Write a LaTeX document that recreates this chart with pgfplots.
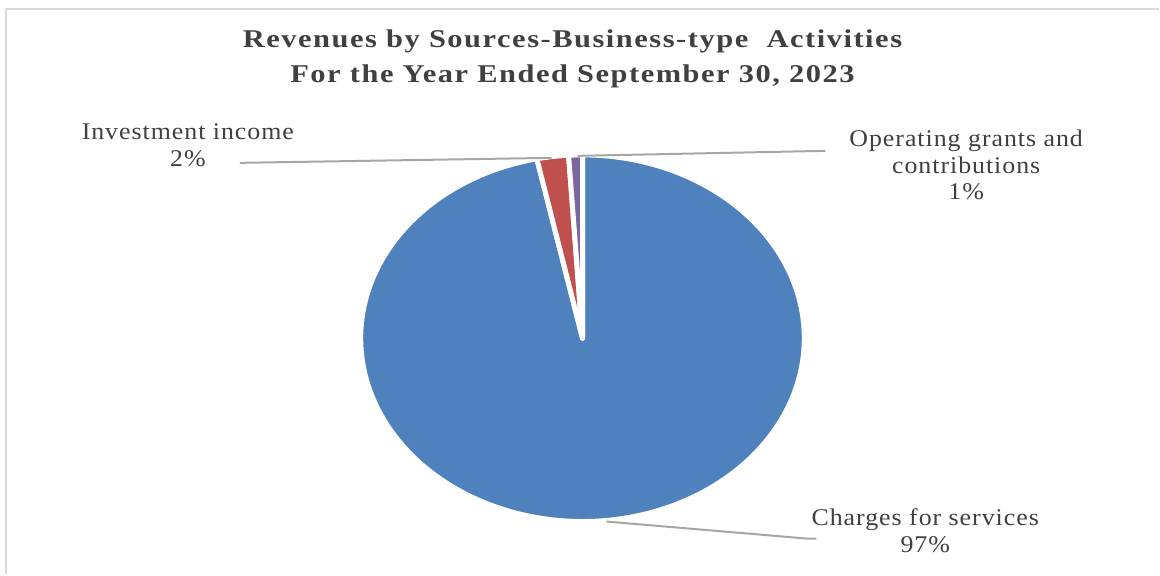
\documentclass[border=0pt]{standalone}
\usepackage{pgfplots}
\pgfplotsset{compat=1.18}
\usepackage{fontspec}
\setmainfont{Liberation Serif}
\newfontfamily\titlefont[FakeStretch=1.19,LetterSpace=6]{Liberation Serif}
\newfontfamily\labelfont[FakeStretch=1.08,LetterSpace=4]{Liberation Serif}
\definecolor{cblue}{HTML}{4F81BD}
\definecolor{cred}{HTML}{C0504D}
\definecolor{cpurple}{HTML}{8064A2}
\definecolor{ctext}{HTML}{404040}
\definecolor{cline}{HTML}{A6A6A6}
\definecolor{cborder}{HTML}{D9D9D9}
\begin{document}
\begin{tikzpicture}
\begin{axis}[width=580pt,height=287.5pt,scale only axis,
  xmin=0,xmax=1160,ymin=0,ymax=575,hide axis,clip=false]
% bounding box / background
\path[fill=white] (axis cs:0,0) rectangle (axis cs:1160,575);
\draw[cborder,line width=1pt] (axis cs:6,0) -- (axis cs:6,566) -- (axis cs:1160,566);
% pie slices (percent shares), clockwise from 12 o'clock
% Charges for services 96.7, Investment income 2.3, Operating grants and contributions 1.0
\addplot[fill=cblue,draw=white,line width=2.5pt,line join=round,domain={90-3.6*96.7}:90,samples=200]
  ({583+222*cos(x)},{236.5+183.5*sin(x)}) -- (axis cs:583,236.5) -- cycle;
\addplot[fill=cred,draw=white,line width=2.5pt,line join=round,domain={90-3.6*(96.7+2.3)}:{90-3.6*96.7},samples=20]
  ({583+222*cos(x)},{236.5+183.5*sin(x)}) -- (axis cs:583,236.5) -- cycle;
\addplot[fill=cpurple,draw=white,line width=2.5pt,line join=round,domain={90-3.6*(96.7+2.3+1.0)}:{90-3.6*(96.7+2.3)},samples=20]
  ({583+222*cos(x)},{236.5+183.5*sin(x)}) -- (axis cs:583,236.5) -- cycle;
% leader lines
\draw[cline,line width=1pt] (axis cs:240,412) -- (axis cs:552,417);
\draw[cline,line width=1pt] (axis cs:578,419) -- (axis cs:826,424);
\draw[cline,line width=1pt] (axis cs:607,53) -- (axis cs:807,36) -- (axis cs:817,36);
% title
\node[text=ctext,font=\titlefont\bfseries\fontsize{12.8}{17.5}\selectfont,align=center] at (axis cs:573,516)
  {Revenues by Sources-Business-type\ \ Activities\\For the Year Ended September 30, 2023};
% labels
\node[text=ctext,font=\labelfont\fontsize{12}{13.5}\selectfont,align=center] at (axis cs:188,430)
  {Investment income\\2\%};
\node[text=ctext,font=\labelfont\fontsize{12}{13.5}\selectfont,align=center] at (axis cs:967,410)
  {Operating grants and\\contributions\\1\%};
\node[text=ctext,font=\labelfont\fontsize{12}{13.5}\selectfont,align=center] at (axis cs:926,44)
  {Charges for services\\97\%};
\end{axis}
\end{tikzpicture}
\end{document}
